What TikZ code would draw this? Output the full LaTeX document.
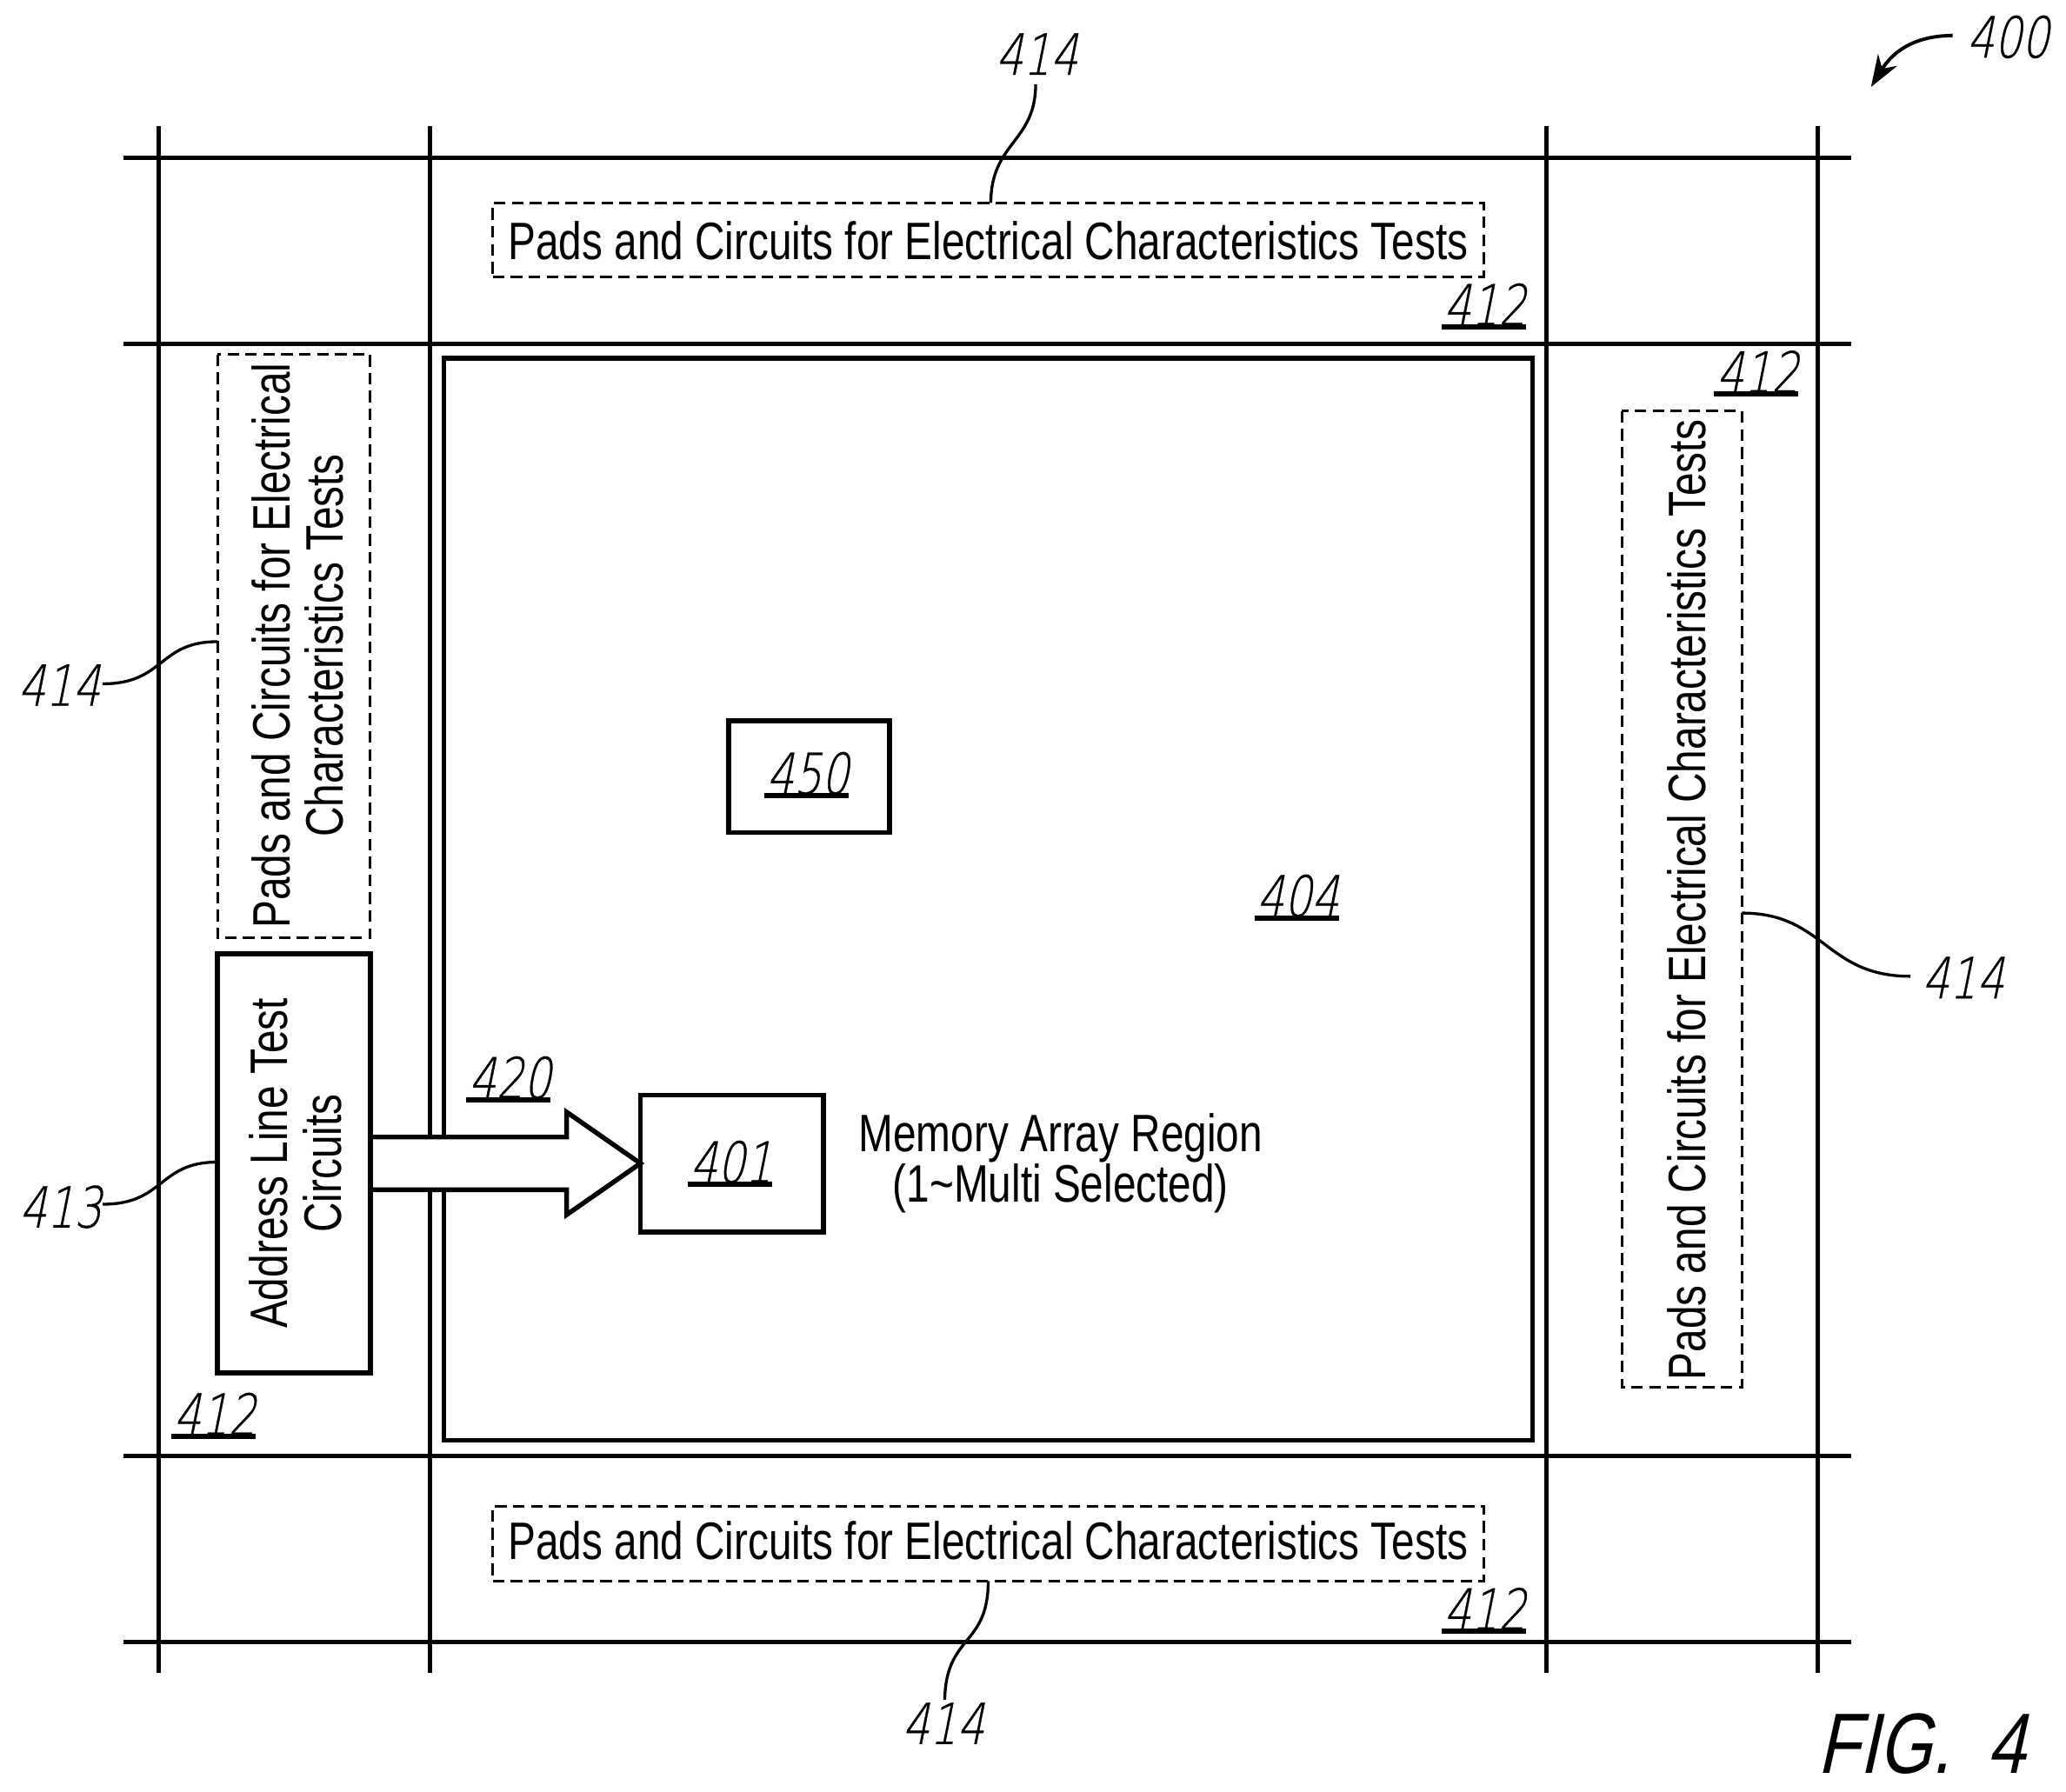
\documentclass[tikz,border=0pt]{standalone}
\usepackage{fontspec}
\setmainfont{Liberation Sans}
\newfontfamily\boxfont[FakeStretch=0.788]{Liberation Sans}
\newfontfamily\reffont[FakeStretch=0.76,FakeSlant=0.2,FakeBold=0.5]{DejaVu Sans ExtraLight}
\newfontfamily\figfont[FakeStretch=0.8,FakeSlant=0.22]{Liberation Sans}
\usetikzlibrary{arrows.meta,calc}
\tikzset{
  grid/.style={line width=1.7pt,black},
  thick box/.style={draw,line width=1.8pt,rectangle,inner sep=0pt,outer sep=0pt},
  dash box/.style={draw,line width=1pt,dash pattern=on 4.4pt off 2.4pt,rectangle,inner sep=0pt,outer sep=0pt},
  body/.style={inner sep=0pt,font=\boxfont\fontsize{20}{20}\selectfont,align=center},
  refnum/.style={inner sep=0pt,font=\reffont\fontsize{21.5}{21.5}\selectfont},
  ul/.style={line width=2pt},
  lead/.style={line width=1.1pt},
}
\newcommand{\refu}[4]{%
  \node[refnum] (#1) at (#2,#3) {#4};
  \draw[ul] ($(#1.center)+(-33,17)$) -- ($(#1.center)+(31,17)$);
}
\begin{document}
\begin{tikzpicture}[x=0.5pt,y=-0.5pt]
\useasboundingbox (0,0) rectangle (1568,1360.1);
% grid
\foreach \gx in {120.5,326.5,1173.5,1379.5}{\draw[grid] (\gx,96) -- (\gx,1270);}
\foreach \gy in {120,261,1105,1246}{\draw[grid] (94,\gy) -- (1405,\gy);}
% inner region
\node[thick box,minimum width=413pt,minimum height=410.5pt] (region) at (750,682.5) {};
% arrow
\coordinate (as1) at (283,863);
\coordinate (as2) at (283,903);
\fill[white] (as1) -- (430,863) -- (430,844) -- (486,883) -- (430,922) -- (430,903) -- (as2) -- cycle;
\draw[line width=1.8pt] (as1) -- (430,863) -- (430,844) -- (486,883) -- (430,922) -- (430,903) -- (as2);
% boxes
\node[thick box,minimum width=58pt,minimum height=159pt,fill=white] (addr) at (223,883) {};
\node[body,rotate=90] (addrtext) at (224.5,883) {Address Line Test\\[0.5pt]Circuits};
\node[thick box,minimum width=69.5pt,minimum height=52pt] (b401) at (555.5,883) {};
\node[thick box,minimum width=61pt,minimum height=42.5pt] (b450) at (614,589.5) {};
\node[dash box,minimum width=376pt,minimum height=28pt] (dtop) at (750,182) {};
\node[body] (ttop) at (750,182.5) {Pads and Circuits for Electrical Characteristics Tests};
\node[dash box,minimum width=376pt,minimum height=28.5pt] (dbot) at (750,1171.5) {};
\node[body] (tbot) at (750,1169.5) {Pads and Circuits for Electrical Characteristics Tests};
\node[dash box,minimum width=221.5pt,minimum height=58pt,rotate=90] (dleft) at (223,490.5) {};
\node[body,rotate=90] (tleft) at (226,490) {Pads and Circuits for Electrical\\Characteristics Tests};
\node[dash box,minimum width=370.5pt,minimum height=45.5pt,rotate=90] (dright) at (1276.5,682.5) {};
\node[body,rotate=90] (tright) at (1280,683) {Pads and Circuits for Electrical Characteristics Tests};
% body text
\node[body] (mem) at (805,883) {Memory Array Region\\[-1pt](1\textasciitilde Multi Selected)};
% underlined reference numerals
\refu{r412a}{1127}{231}{412}
\refu{r412b}{1334}{282}{412}
\refu{r412c}{163}{1073}{412}
\refu{r412d}{1127}{1221}{412}
\refu{r420}{387}{818}{420}
\refu{r401}{555}{882}{401}
\refu{r450}{613}{587}{450}
\refu{r404}{985}{680}{404}
% plain numerals
\node[refnum] (n400) at (1524,28) {400};
\node[refnum] (n414t) at (787,41) {414};
\node[refnum] (n414l) at (45,520) {414};
\node[refnum] (n414r) at (1490,742) {414};
\node[refnum] (n414b) at (716,1308) {414};
\node[refnum] (n413) at (46,916) {413};
% leaders
\coordinate (c400) at (1420,66);
\draw[line width=1.3pt,-{Stealth[length=12pt,width=8.5pt]}] (1482,27) .. controls (1452,27) and (1436,40) .. (c400);
\coordinate (ct) at (752,154);
\draw[lead] (786,64) .. controls (786,108) and (752,108) .. (ct);
\coordinate (cl) at (165,487);
\draw[lead] (78,519) .. controls (125,519) and (120,487) .. (cl);
\coordinate (ca) at (165,882);
\draw[lead] (78,914) .. controls (125,914) and (120,882) .. (ca);
\coordinate (cr) at (1322,693);
\draw[lead] (cr) .. controls (1385,693) and (1385,741) .. (1450,741);
\coordinate (cb) at (750,1200);
\draw[lead] (cb) .. controls (750,1250) and (718,1240) .. (717,1290);
% figure label
\node[inner sep=0pt,anchor=base west,font=\figfont\fontsize{32.5}{32.5}\selectfont] (fig) at (1379,1346) {FIG.\hspace{14pt}4};
\end{tikzpicture}
\end{document}
